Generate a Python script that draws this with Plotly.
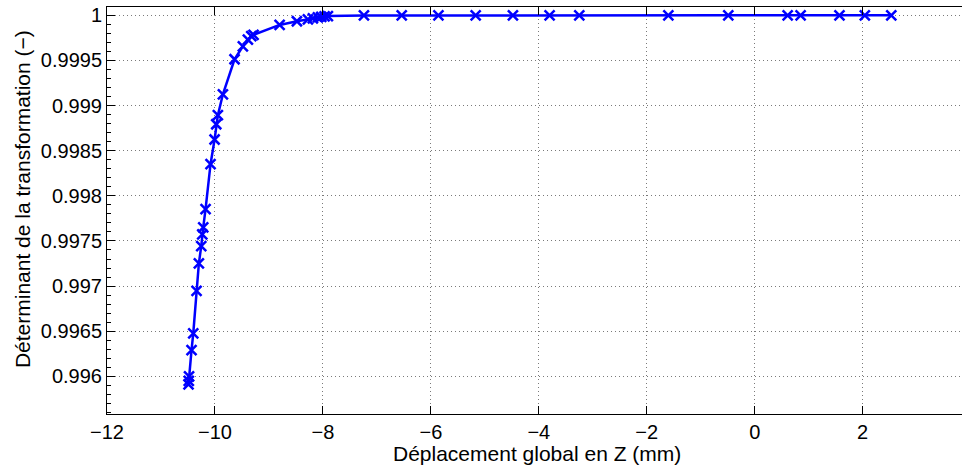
import plotly.graph_objects as go

# Data
z_mm = [-10.49, -10.485, -10.48, -10.434, -10.402, -10.341, -10.298, -10.254,
        -10.235, -10.217, -10.174, -10.082, -10.007, -9.976, -9.946, -9.853,
        -9.637, -9.483, -9.390, -9.327, -9.285, -8.802, -8.482, -8.278,
        -8.186, -8.093, -8.03, -7.969, -7.908, -7.240, -6.54, -5.86, -5.17,
        -4.48, -3.80, -3.25, -1.60, -0.49, 0.61, 0.85, 1.57, 2.04, 2.53]
det = [0.99591, 0.99595, 0.99600, 0.996291, 0.996476, 0.996948, 0.997251,
       0.997443, 0.997572, 0.997650, 0.997852, 0.998350, 0.998624, 0.998793,
       0.998893, 0.999125, 0.999513, 0.999657, 0.999731, 0.999768, 0.999784,
       0.999893, 0.999934, 0.999956, 0.999967, 0.999978, 0.999983, 0.999989,
       0.999992, 0.999998, 0.999999, 0.9999995, 0.9999997, 0.9999998,
       0.9999999, 0.9999999, 1.0, 1.0, 1.0, 1.0, 1.0, 1.0, 1.0]

x_ticks = [-12, -10, -8, -6, -4, -2, 0, 2]
x_ticktext = ["\u221212", "\u221210", "\u22128", "\u22126", "\u22124", "\u22122", "0", "2"]
y_ticks = [0.996, 0.9965, 0.997, 0.9975, 0.998, 0.9985, 0.999, 0.9995, 1.0]
y_ticktext = ["0.996", "0.9965", "0.997", "0.9975", "0.998", "0.9985", "0.999", "0.9995", "1"]

x_title = "Déplacement global en Z (mm)"
y_title = "Déterminant de la transformation (\u2212)"

FONT = "Liberation Sans, Arial, Helvetica, sans-serif"

fig = go.Figure()
fig.add_trace(go.Scatter(
    x=z_mm, y=det, mode="lines+markers",
    line=dict(color="#0000ff", width=2.5),
    marker=dict(symbol="x-thin", size=10, color="#0000ff",
                line=dict(color="#0000ff", width=2.5)),
    showlegend=False,
))

fig.update_layout(
    width=962, height=469,
    margin=dict(l=107, r=0, t=7, b=55, autoexpand=False),
    paper_bgcolor="white", plot_bgcolor="white",
    font=dict(family=FONT, size=20, color="black"),
    showlegend=False,
    annotations=[
        dict(text=x_title, xref="paper", yref="paper", x=0.503, y=-0.096,
             xanchor="center", yanchor="middle", showarrow=False,
             font=dict(family=FONT, size=21, color="black")),
        dict(text=y_title, xref="paper", yref="paper", x=-0.0994, y=0.528,
             xanchor="center", yanchor="middle", showarrow=False, textangle=-90,
             font=dict(family=FONT, size=21, color="black")),
    ],
)

GRID_DASH = "1px,3px"

fig.update_xaxes(
    range=[-12, 3.84], tickvals=x_ticks, ticktext=x_ticktext,
    showline=True, linecolor="black", linewidth=1, mirror="ticks",
    ticks="inside", ticklen=8, tickcolor="black", tickwidth=1,
    showgrid=True, gridcolor="#7a7a7a", griddash=GRID_DASH, gridwidth=1,
    zeroline=False, tickfont=dict(family=FONT, size=20, color="black"),
    automargin=False,
)
fig.update_yaxes(
    range=[0.995583, 1.0000919], tickvals=y_ticks, ticktext=y_ticktext,
    showline=True, linecolor="black", linewidth=1,
    ticks="inside", ticklen=8, tickcolor="black", tickwidth=1,
    minor=dict(dtick=0.0001, ticks="inside", ticklen=4, tickcolor="black",
               showgrid=False),
    showgrid=True, gridcolor="#7a7a7a", griddash=GRID_DASH, gridwidth=1,
    zeroline=False, tickfont=dict(family=FONT, size=20, color="black"),
    automargin=False,
)

fig.write_html(
    "out.html",
    config={"displayModeBar": False},
    post_script="document.body.style.margin='0';document.body.style.overflow='hidden';",
)
